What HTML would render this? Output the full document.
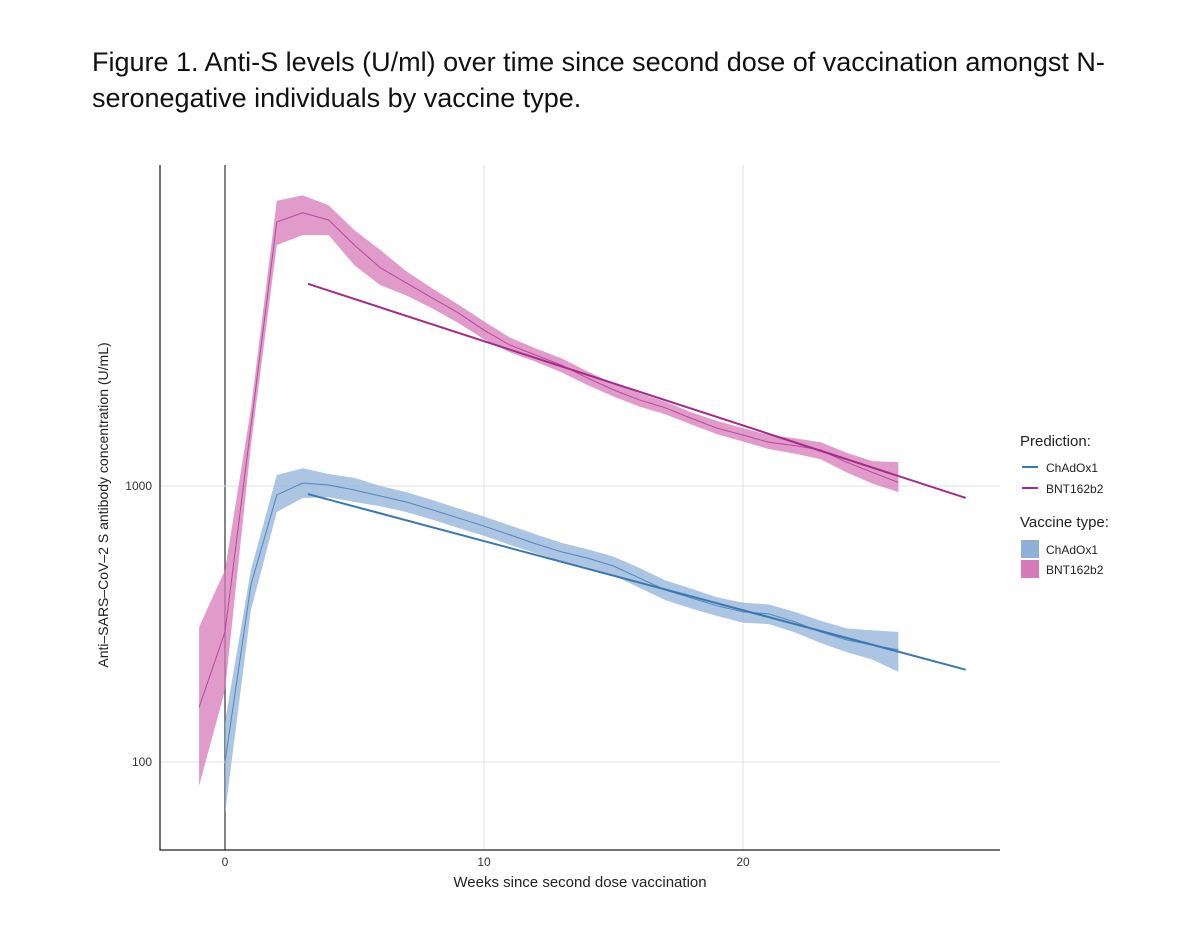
<!DOCTYPE html>
<html><head><meta charset="utf-8"><style>
body{margin:0;background:#fff;font-family:"Liberation Sans",sans-serif}
#t{position:absolute;left:92px;top:44px;font-size:27px;line-height:36px;color:#111;width:1080px}
</style></head><body>
<div id="t">Figure 1. Anti-S levels (U/ml) over time since second dose of vaccination amongst N-seronegative individuals by vaccine type.</div>
<svg id="c" width="1200" height="925" style="position:absolute;left:0;top:0"></svg>
<script>
const bntWeeks=[-1,0,1,2,3,4,5,6,7,8,9,10,11,12,13,14,15,16,17,18,19,20,21,22,23,24,25,26];
const bntMean=[158,296,1640,9050,9770,9200,7460,6170,5440,4800,4240,3670,3240,2980,2740,2460,2230,2050,1920,1760,1620,1530,1440,1400,1350,1220,1120,1030];
const bntHi=[308,496,1900,10800,11300,10400,8450,7160,6000,5200,4550,3950,3450,3150,2900,2600,2350,2170,2020,1850,1720,1620,1530,1490,1440,1320,1230,1220];
const bntLo=[82,182,1400,7460,8120,8120,6300,5340,4900,4400,3900,3400,3050,2820,2580,2320,2110,1940,1820,1670,1540,1450,1360,1310,1250,1120,1020,950];
const chaWeeks=[0,1,2,3,4,5,6,7,8,9,10,11,12,13,14,15,16,17,18,19,20,21,22,23,24,25,26];
const chaMean=[100,438,928,1025,1008,967,920,875,820,766,716,665,617,577,548,513,464,420,393,368,350,344,322,296,277,265,255];
const chaHi=[140,496,1096,1160,1105,1070,1000,950,890,830,775,720,668,622,590,555,505,455,425,395,378,372,350,325,305,300,296];
const chaLo=[65,355,805,905,910,875,845,805,755,705,660,612,570,533,506,475,428,386,360,338,320,316,295,270,250,235,212];
const predWeeks=[3.2,28.6];
const predBnt=[5400,905];
const predCha=[935,216];
const xTicks=[0,10,20];
const yTicks=[100,1000];

const X=w=>225+w*25.9;
const Y=v=>486-Math.log10(v/1000)*276;
const svg=document.getElementById('c');
const NS='http://www.w3.org/2000/svg';
function mk(tag,attrs,parent){const e=document.createElementNS(NS,tag);for(const k in attrs)e.setAttribute(k,attrs[k]);(parent||svg).appendChild(e);return e;}

xTicks.forEach(t=>{const l=mk('line',{x1:X(t),x2:X(t),y1:165,y2:850,stroke:t===0?'#333':'#e0e0e0','stroke-width':t===0?1.2:1});


const tx=mk('text',{x:X(t),y:866,'font-size':12,'text-anchor':'middle',fill:'#333'});tx.textContent=t;

});
yTicks.forEach(t=>{const l=mk('line',{x1:160,x2:1000,y1:Y(t),y2:Y(t),stroke:'#e0e0e0'});


const tx=mk('text',{x:152,y:Y(t)+4,'font-size':12,'text-anchor':'end',fill:'#333'});tx.textContent=t;

});
let a=mk('path',{d:'M160 165V850H1000',fill:'none',stroke:'#222','stroke-width':1.3});



function band(ws,lo,hi,fill,name){const p=ws.map((w,i)=>X(w)+','+Y(hi[i])).concat(ws.map((w,i)=>X(w)+','+Y(lo[i])).reverse());
const e=mk('polygon',{points:p.join(' '),fill:fill,'fill-opacity':0.75});

}
function line(ws,vs,col,wd,name){const e=mk('polyline',{points:ws.map((w,i)=>X(w)+','+Y(vs[i])).join(' '),fill:'none',stroke:col,'stroke-width':wd});

}
band(chaWeeks,chaLo,chaHi,'#8fb1d8','chadox1-band');
band(bntWeeks,bntLo,bntHi,'#d679b8','bnt162b2-band');
line(chaWeeks,chaMean,'#5585bd',1,'chadox1-mean-line');
line(bntWeeks,bntMean,'#b8479a',1,'bnt162b2-mean-line');
line(predWeeks,predCha,'#3a78b0',2,'chadox1-prediction-line');
line(predWeeks,predBnt,'#a62a8a',2,'bnt162b2-prediction-line');

function txt(x,y,s,sz,name,extra){const e=mk('text',Object.assign({x:x,y:y,'font-size':sz,fill:'#222'},extra||{}));e.textContent=s;

return e;}
txt(580,887,'Weeks since second dose vaccination',15,'x-axis-title',{'text-anchor':'middle'});
txt(0,0,'Anti\u2013SARS\u2013CoV\u20132 S antibody concentration (U/mL)',14,'y-axis-title',{'text-anchor':'middle',transform:'translate(108,505) rotate(-90)'});
txt(1020,446,'Prediction:',15,'legend-title-prediction');
[['ChAdOx1','#3a78b0',467],['BNT162b2','#a62a8a',488]].forEach(([n,c,y])=>{const l=mk('line',{x1:1022,x2:1038,y1:y,y2:y,stroke:c,'stroke-width':2});


txt(1046,y+5,n,12,'legend-entry-prediction');});
txt(1020,527,'Vaccine type:',15,'legend-title-vaccine');
[['ChAdOx1','#8fb1d8',549],['BNT162b2','#d679b8',569]].forEach(([n,c,y])=>{const r=mk('rect',{x:1021,y:y-9,width:18,height:18,fill:c});


txt(1046,y+5,n,12,'legend-entry-vaccine');});
</script>
</body></html>
